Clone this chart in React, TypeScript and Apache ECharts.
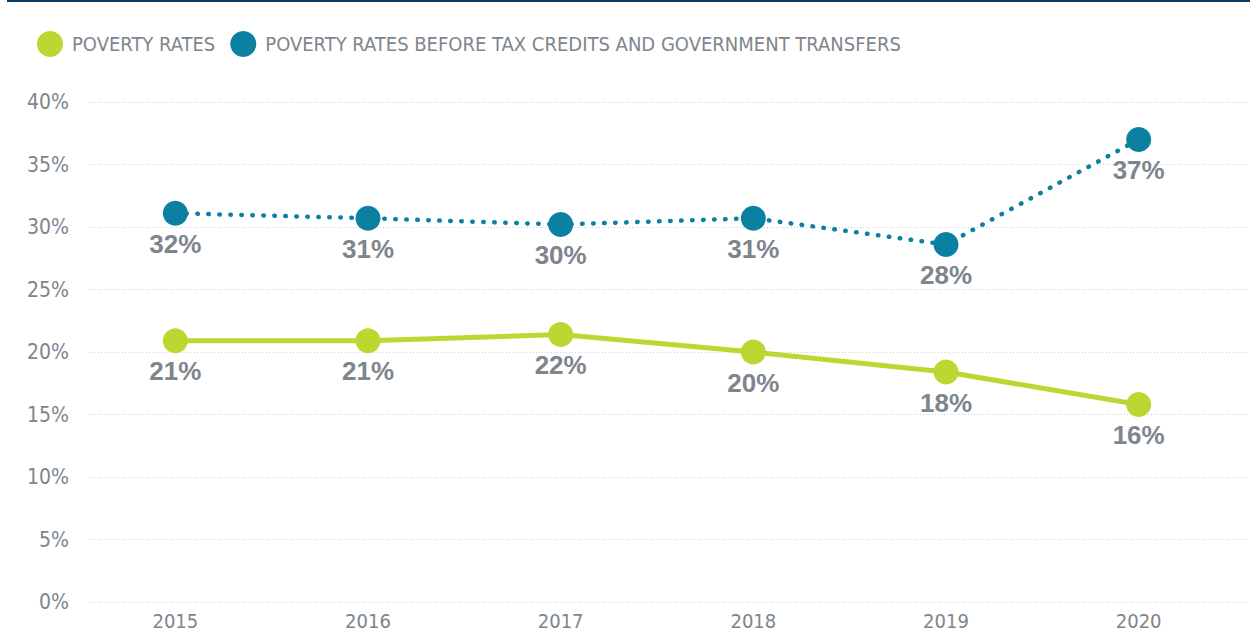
import React, { useEffect, useRef } from "react";
import * as echarts from "echarts";

const years = ["2015", "2016", "2017", "2018", "2019", "2020"];
const povertyRates = [20.9, 20.9, 21.4, 20.0, 18.4, 15.8];
const povertyLabels = ["21%", "21%", "22%", "20%", "18%", "16%"];
const beforeTransfers = [31.1, 30.7, 30.2, 30.7, 28.6, 37.0];
const beforeLabels = ["32%", "31%", "30%", "31%", "28%", "37%"];
const yMin = 0;
const yMax = 40;
const yStep = 5;

const GREEN = "#bed631";
const BLUE = "#0b80a1";
const GRAY = "#7e858c";
const NARROW = "'Liberation Sans Narrow', 'DejaVu Sans Condensed', 'Roboto', sans-serif";
const BOLD = "'Liberation Sans', 'Roboto', sans-serif";

export default function App() {
  const ref = useRef<HTMLDivElement>(null);
  useEffect(() => {
    if (!ref.current) return;
    const chart = echarts.init(ref.current, undefined, { renderer: "svg" });
    const labelFor = (arr: string[]) => ({
      show: true,
      position: "bottom" as const,
      distance: 5,
      fontFamily: BOLD,
      fontWeight: "bold" as const,
      fontSize: 26,
      color: GRAY,
      formatter: (p: any) => arr[p.dataIndex],
    });
    chart.setOption({
      animation: false,
      graphic: [
        {
          type: "rect",
          shape: { x: 7, y: 0, width: 1243, height: 2 },
          style: { fill: "#0d3b5e" },
        },
      ],
      legend: {
        left: 37,
        top: 31,
        padding: 0,
        itemWidth: 34,
        itemHeight: 26,
        itemGap: 15,
        icon: "circle",
        textStyle: { fontFamily: NARROW, fontSize: 20, color: GRAY },
        data: ["POVERTY RATES", "POVERTY RATES BEFORE TAX CREDITS AND GOVERNMENT TRANSFERS"],
      },
      grid: [
        { left: 89, right: 2, top: 102, bottom: 37 },
        { left: 79, right: 15, top: 102, bottom: 37 },
      ],
      xAxis: [
        { gridIndex: 0, type: "category", data: years, show: false },
        {
          gridIndex: 1,
          type: "category",
          data: years,
          axisLine: { show: false },
          axisTick: { show: false },
          axisLabel: { fontFamily: NARROW, fontSize: 20, color: GRAY, margin: 9 },
        },
      ],
      yAxis: [
        {
          gridIndex: 0,
          type: "value",
          min: yMin,
          max: yMax,
          interval: yStep,
          axisLine: { show: false },
          axisTick: { show: false },
          axisLabel: { formatter: "{value}%", fontFamily: NARROW, fontSize: 21, color: GRAY, margin: 20 },
          splitLine: { lineStyle: { color: "#cfcfcf", width: 1, type: [1, 2] } },
        },
        { gridIndex: 1, type: "value", min: yMin, max: yMax, interval: yStep, show: false, splitLine: { show: false } },
      ],
      series: [
        {
          name: "POVERTY RATES",
          type: "line",
          xAxisIndex: 1,
          yAxisIndex: 1,
          data: povertyRates,
          symbol: "circle",
          symbolSize: 25,
          itemStyle: { color: GREEN },
          lineStyle: { color: GREEN, width: 5 },
          label: labelFor(povertyLabels),
        },
        {
          name: "POVERTY RATES BEFORE TAX CREDITS AND GOVERNMENT TRANSFERS",
          type: "line",
          xAxisIndex: 1,
          yAxisIndex: 1,
          data: beforeTransfers,
          symbol: "circle",
          symbolSize: 25,
          itemStyle: { color: BLUE },
          lineStyle: { color: BLUE, width: 4.5, type: [0.5, 10.5], cap: "round" },
          label: labelFor(beforeLabels),
        },
      ],
    });
    return () => chart.dispose();
  }, []);
  return (
    <div
      ref={ref}
      style={{ position: "fixed", left: 0, top: 0, width: 1250, height: 639, background: "#fff" }}
    />
  );
}
